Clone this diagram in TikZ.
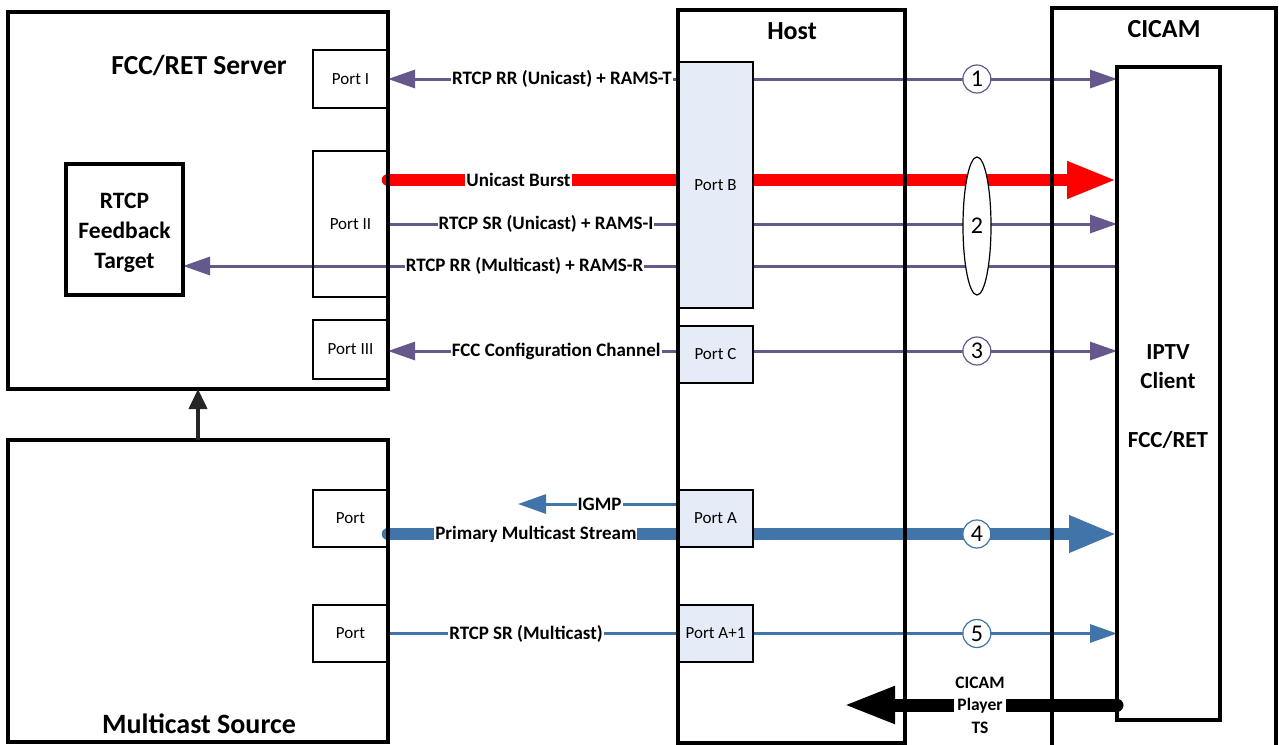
\documentclass[tikz,border=0pt]{standalone}
\usepackage{fontspec}
\setmainfont{Carlito}
\usetikzlibrary{arrows.meta,shapes.geometric}
\definecolor{rpurple}{HTML}{66588C}
\definecolor{rblue}{HTML}{4174A8}
\definecolor{rred}{HTML}{FF0000}
\definecolor{pfill}{HTML}{E6ECF7}
\pgfdeclarelayer{bg}
\pgfsetlayers{bg,main}
\begin{document}
\begin{tikzpicture}[x=1pt,y=-1pt,
  frame/.style={draw, line width=4pt, outer sep=0pt, inner sep=0pt, anchor=north west},
  inframe/.style={draw, line width=3.5pt, outer sep=0pt, inner sep=0pt, anchor=north west},
  port/.style={draw, line width=1.6pt, outer sep=0pt, inner sep=0pt, anchor=north west,
    minimum width=75pt, font=\fontsize{17}{18}\selectfont},
  hport/.style={port, fill=pfill},
  title/.style={font=\bfseries\fontsize{27}{30}\selectfont, anchor=base, inner sep=0pt},
  lab/.style={fill=white, inner sep=1pt, font=\bfseries\fontsize{19}{22}\selectfont},
  num/.style={circle, draw, line width=1.2pt, fill=white, minimum size=28pt, inner sep=0pt,
    font=\fontsize{24}{24}\selectfont},
  pl/.style={draw=rpurple, line width=3pt},
  bl/.style={draw=rblue, line width=3pt},
  rl/.style={draw=rred, line width=12.5pt},
  smalltip/.style={-{Triangle[length=27pt,width=18pt]}},
  bigtip/.style={-{Triangle[length=50pt,width=34pt]}}
]
\useasboundingbox (0,0) rectangle (1279,744);
\clip (0,0) rectangle (1279,744);

% ports
\node[port, minimum height=58pt] (p1) at (313,50) {Port I};
\node[port, minimum height=146pt] (p2) at (313,151) {Port II};
\node[port, minimum height=59pt] (p3) at (313,320) {Port III};
\node[port, minimum height=57pt] (mp1) at (313,490) {Port};
\node[port, minimum height=57pt] (mp2) at (313,605) {Port};
\node[hport, minimum height=246pt] (pB) at (678,62) {Port B};
\node[hport, minimum height=57pt] (pC) at (678,326) {Port C};
\node[hport, minimum height=57pt] (pA) at (678,490) {Port A};
\node[hport, minimum height=57pt] (pA1) at (678,605) {Port A+1};

% frames
\node[frame, minimum width=380pt, minimum height=377pt] (srv) at (8,12) {};
\node[frame, minimum width=380pt, minimum height=302pt] (msrc) at (8,440) {};
\node[frame, minimum width=227pt, minimum height=733pt] (host) at (678,10) {};
\node[frame, minimum width=224pt, minimum height=745pt] (cicam) at (1052,8) {};
\node[inframe, minimum width=103pt, minimum height=653pt] (iptv) at (1117,67) {};
\node[inframe, minimum width=117pt, minimum height=131pt] (fbt) at (66,164) {};

% titles
\node[title, font=\bfseries\fontsize{27.5}{30}\selectfont] (tsrv) at (199,74) {FCC/RET Server};
\node[title, font=\bfseries\fontsize{28}{30}\selectfont] (tmsrc) at (199,733) {Multicast Source};
\node[title, font=\bfseries\fontsize{26}{30}\selectfont] (thost) at (792,39) {Host};
\node[title, font=\bfseries\fontsize{26}{30}\selectfont] (tcicam) at (1164,37) {CICAM};
\node[font=\bfseries\fontsize{23.5}{30}\selectfont, align=center, anchor=base, inner sep=0pt] (tfbt) at (124.5,268) {RTCP\\Feedback\\Target};
\node[font=\bfseries\fontsize{23}{29}\selectfont, align=center, anchor=base, inner sep=0pt] (tiptv) at (1168,388) {IPTV\\Client};
\node[title, font=\bfseries\fontsize{23}{29}\selectfont] (tfr) at (1168,447) {FCC/RET};

% connectors
\coordinate (yb) at (0,180);
\coordinate (yd) at (0,266);
\coordinate (ye) at (0,351);
\coordinate (igmp) at (518,504);
\coordinate (ys) at (0,534);
\coordinate (yt) at (0,705);
\coordinate (tsend) at (843,705);

\begin{pgfonlayer}{bg}
\fill[white] (0,0) rectangle (1279,744);
\draw[pl, smalltip] (pB.west |- p1.east) -- node[lab, pos=.4]{RTCP RR (Unicast) + RAMS-T} (p1.east);
\draw[pl, smalltip] (pB.east |- p1.east) -- node[num, pos=.615]{1} (iptv.west |- p1.east);

\draw[rl, line cap=round] (p2.east |- yb) -- node[lab, pos=.45]{Unicast Burst} (pB.west |- yb);
\draw[rl, bigtip] (pB.east |- yb) -- (iptv.west |- yb);

\draw[pl] (p2.east) -- node[lab, pos=.545]{RTCP SR (Unicast) + RAMS-I} (pB.west |- p2.east);
\draw[pl, smalltip] (pB.east |- p2.east) -- (iptv.west |- p2.east);

\draw[pl, smalltip] (pB.west |- yd) -- node[lab, pos=.31]{RTCP RR (Multicast) + RAMS-R} (fbt.east |- yd);
\draw[pl] (iptv.west |- yd) -- (pB.east |- yd);

\draw[pl, smalltip] (pC.west |- ye) -- node[lab, pos=.42]{FCC Configuration Channel} (p3.east |- ye);
\draw[pl, smalltip] (pC.east |- ye) -- node[num, pos=.615]{3} (iptv.west |- ye);

\draw[bl, -{Triangle[length=28pt,width=19pt]}] (pA.west |- igmp) -- node[lab, pos=.49]{IGMP} (igmp);

\draw[bl, line width=12.5pt, line cap=round] (mp1.east |- ys) -- node[lab, pos=.51]{Primary Multicast Stream} (pA.west |- ys);
\draw[bl, line width=12.5pt, -{Triangle[length=48pt,width=34pt]}] (pA.east |- ys) -- node[num, pos=.615]{4} (iptv.west |- ys);

\draw[bl, line cap=round] (mp2.east) -- node[lab, pos=.476]{RTCP SR (Multicast)} (pA1.west |- mp2.east);
\draw[bl, smalltip] (pA1.east |- mp2.east) -- node[num, pos=.615]{5} (iptv.west |- mp2.east);

\draw[line width=13pt, line cap=round, -{Triangle[length=52pt,width=34pt]}] (iptv.west |- yt) -- node[lab, pos=.5, align=center, font=\bfseries\fontsize{17.5}{22.5}\selectfont]{CICAM\\Player\\TS} (tsend);
\end{pgfonlayer}

\node[ellipse, draw, fill=white, line width=1.2pt, minimum width=28pt, minimum height=138pt, inner sep=0pt, font=\fontsize{24}{24}\selectfont] (e2) at (977,226) {2};

\draw[line width=4pt, draw=black!85, -{Triangle[length=20pt,width=18pt]}] (msrc.north) -- (srv.south);
\end{tikzpicture}
\end{document}
